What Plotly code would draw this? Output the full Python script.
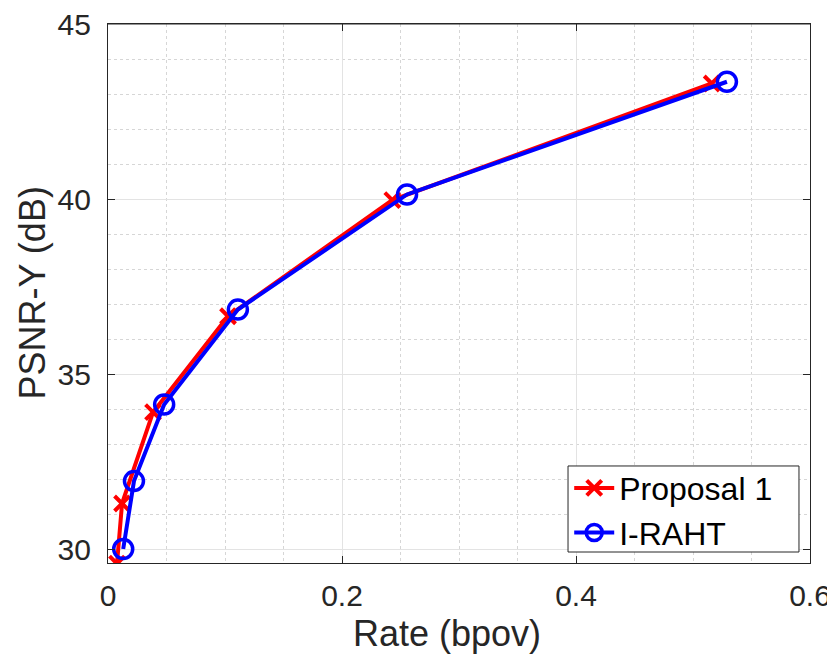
import plotly.graph_objects as go

prop_x = [0.0077, 0.012, 0.0385, 0.1026, 0.243, 0.516]
prop_y = [29.58, 31.3, 33.91, 36.65, 39.97, 43.3]
iraht_x = [0.013, 0.0222, 0.048, 0.111, 0.2556, 0.529]
iraht_y = [30.0, 31.94, 34.13, 36.84, 40.13, 43.35]

x_ticks = [0, 0.2, 0.4, 0.6]
x_labels = ["0", "0.2", "0.4", "0.6"]
y_ticks = [30, 35, 40, 45]
y_labels = ["30", "35", "40", "45"]

font = "Liberation Sans, Arial, sans-serif"
axc = "#262626"
fig = go.Figure()
fig.add_trace(go.Scatter(x=prop_x, y=prop_y, mode="lines+markers", name="Proposal 1",
                         line=dict(color="#ff0000", width=4),
                         marker=dict(symbol="x-thin-open", size=15, color="#ff0000",
                                     line=dict(color="#ff0000", width=4))))
fig.add_trace(go.Scatter(x=iraht_x, y=iraht_y, mode="lines+markers", name="I-RAHT",
                         line=dict(color="#0000ff", width=4),
                         marker=dict(symbol="circle-open", size=19, color="#0000ff",
                                     line=dict(color="#0000ff", width=3.5))))

axcommon = dict(showline=True, linecolor=axc, linewidth=1.2, mirror="ticks",
                ticks="inside", ticklen=7, tickcolor=axc, automargin=False,
                ticklabeloverflow="allow",
                showgrid=True, gridcolor="#e3e3e3", gridwidth=1, zeroline=False,
                tickfont=dict(family=font, size=30, color=axc))
fig.update_xaxes(range=[0, 0.6], tickvals=x_ticks, ticktext=x_labels, ticklabelstandoff=6,
                 minor=dict(dtick=0.05, showgrid=True, gridcolor="#d6d6d6", griddash="dot", gridwidth=1, ticks=""),
                 **axcommon)
fig.update_yaxes(range=[29.6, 45], tickvals=y_ticks, ticktext=y_labels, ticklabelstandoff=10,
                 minor=dict(dtick=1, tick0=30, showgrid=True, gridcolor="#d6d6d6", griddash="dot", gridwidth=1, ticks=""),
                 **axcommon)

# axis titles
fig.add_annotation(text="Rate (bpov)", xref="paper", yref="paper", x=0.483, y=0, yshift=-70,
                   xanchor="center", yanchor="middle", showarrow=False,
                   font=dict(family=font, size=36, color=axc))
fig.add_annotation(text="PSNR-Y (dB)", xref="paper", yref="paper", x=0, y=0.5, xshift=-76,
                   xanchor="center", yanchor="middle", textangle=-90, showarrow=False,
                   font=dict(family=font, size=36, color=axc))
# top frame line
fig.add_shape(type="line", xref="paper", yref="paper", x0=0, x1=1, y0=1, y1=1,
              line=dict(color=axc, width=1.2), layer="above")
# legend frame
fig.add_shape(type="rect", xref="paper", yref="paper", x0=0.6553, x1=0.9843, y0=0.0204, y1=0.18,
              line=dict(color=axc, width=1), fillcolor="white", layer="above")

fig.update_layout(width=827, height=651, margin=dict(l=100, r=25, t=16, b=96),
                  plot_bgcolor="white", paper_bgcolor="white",
                  legend=dict(x=0.657, y=0.19, xanchor="left", yanchor="top",
                              bgcolor="rgba(0,0,0,0)", borderwidth=0,
                              font=dict(family=font, size=32, color="black"),
                              itemwidth=40, tracegroupgap=0))
fig.write_html("out.html")
